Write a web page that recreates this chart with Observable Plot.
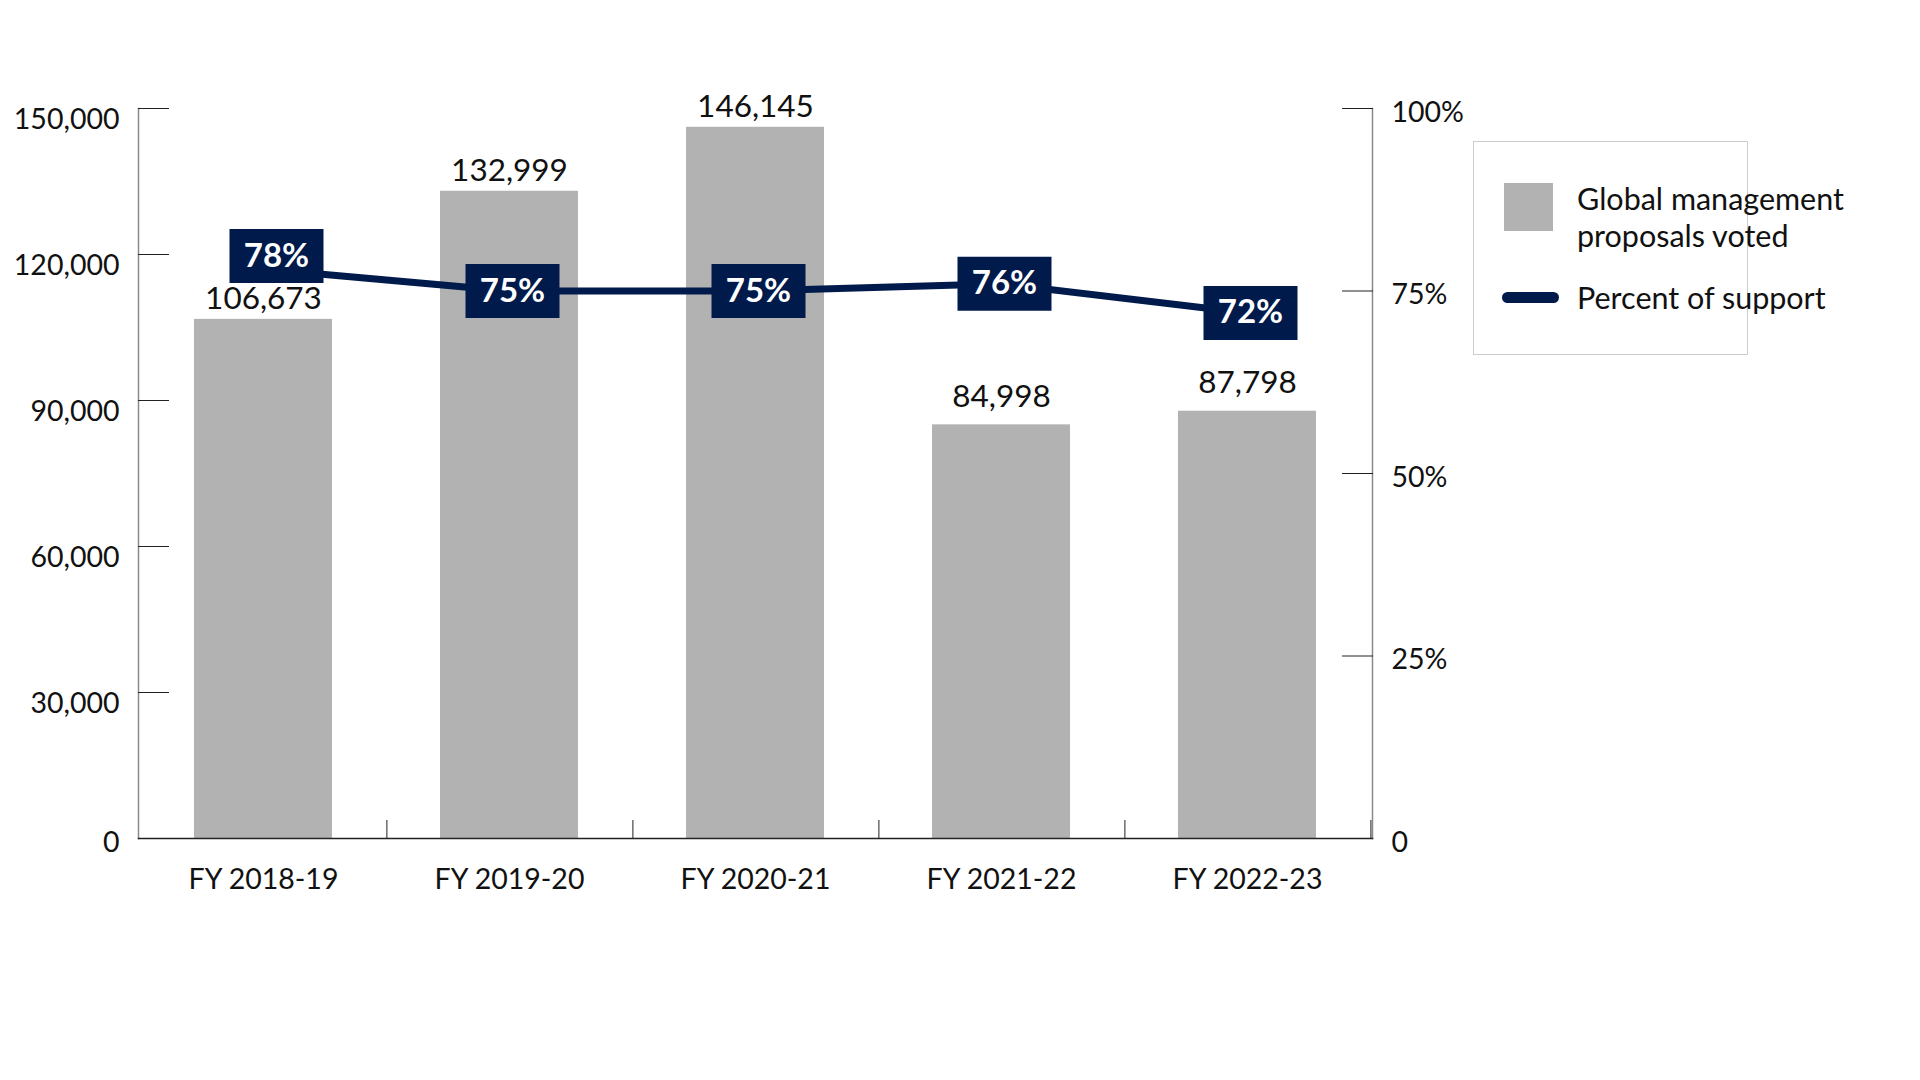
<!DOCTYPE html>
<html><head><meta charset="utf-8">
<script src="https://cdn.jsdelivr.net/npm/d3@7"></script>
<script src="https://cdn.jsdelivr.net/npm/@observablehq/plot@0.6"></script>
<style>
body{margin:0;background:#fff;font-family:Lato,sans-serif;color:#111;}
#wrap{position:relative;width:1920px;height:1080px;}
.legend{position:absolute;left:1473px;top:141px;width:273px;height:212px;border:1px solid #cccccc;box-sizing:content-box;}
.sw{position:absolute;}
.lt{position:absolute;font-size:30.5px;line-height:37px;color:#111;white-space:nowrap;}
</style></head><body><div id="wrap"></div>
<script>
const categories = ["FY 2018-19", "FY 2019-20", "FY 2020-21", "FY 2021-22", "FY 2022-23"];
const proposals = [106673, 132999, 146145, 84998, 87798];
const support = [78, 75, 75, 76, 72];
const leftTicks = [0, 30000, 60000, 90000, 120000, 150000];
const rightTicks = [0, 25, 50, 75, 100];
const yMax = 150000;

const navy = "#001a4b";
const gray = "#b2b2b2";
const W = 1920, H = 1080, mL = 138, mR = 548, mT = 108, mB = 242;
const step = (W - mL - mR) / categories.length;
const pctToY = p => p * yMax / 100;

const bars = categories.map((c, i) => ({cat: c, v: proposals[i]}));
const pts = categories.map((c, i) => ({cat: c, p: support[i], y: pctToY(support[i])}));

const rectSymbol = {draw(ctx) { ctx.rect(-47, -27, 94, 54); }};
const fmt = d3.format(",");

const chart = Plot.plot({
  width: W, height: H,
  marginLeft: mL, marginRight: mR, marginTop: mT, marginBottom: mB,
  style: {fontFamily: "Lato, sans-serif", fontSize: "28px", color: "#111", background: "#fff"},
  x: {domain: categories, paddingInner: 0.44, paddingOuter: 0.22, axis: null},
  y: {domain: [0, yMax], axis: null},
  marks: [
    Plot.barY(bars, {x: "cat", y: "v", fill: gray}),
    Plot.frame({anchor: "left", stroke: "#8a8a8a", strokeWidth: 1.5}),
    Plot.frame({anchor: "right", stroke: "#8a8a8a", strokeWidth: 1.5}),
    Plot.frame({anchor: "bottom", stroke: "#222", strokeWidth: 1.5}),
    // left ticks pointing inward
    Plot.axisY(leftTicks, {anchor: "left", tickSize: 31, dx: 31, fill: "none", stroke: "#222", label: null}),
    // right ticks pointing inward
    Plot.axisY(rightTicks.map(pctToY), {anchor: "right", tickSize: 31, dx: -31, fill: "none", stroke: "#222", label: null}),
    // left labels
    Plot.axisY(leftTicks.filter(d => d > 0), {anchor: "left", tickSize: 0, tickPadding: 19, dy: 11, fontSize: 28.5, tickFormat: fmt, label: null}),
    Plot.axisY(leftTicks.filter(d => d === 0), {anchor: "left", tickSize: 0, tickPadding: 19, dy: 4, fontSize: 28.5, tickFormat: fmt, label: null}),
    // right labels
    Plot.axisY(rightTicks.map(pctToY), {anchor: "right", tickSize: 0, tickPadding: 19, dy: 4, fontSize: 28.5, tickFormat: d => d === 0 ? "0" : Math.round(d * 100 / yMax) + "%", label: null}),
    // x category boundary ticks
    Plot.axisX(categories, {anchor: "bottom", tickSize: 18, dy: -18, dx: step / 2, fill: "none", stroke: "#222", label: null}),
    // x labels
    Plot.axisX(categories, {anchor: "bottom", tickSize: 0, tickPadding: 30, fontSize: 28.5, label: null}),
    // bar value labels
    Plot.text(bars.slice(0, 3), {x: "cat", y: "v", text: d => fmt(d.v), dy: -20, fontSize: 31.5, fill: "#111"}),
    Plot.text(bars.slice(3), {x: "cat", y: "v", text: d => fmt(d.v), dy: -28, fontSize: 31.5, fill: "#111"}),
    // support line
    Plot.line(pts, {x: "cat", y: "y", stroke: navy, strokeWidth: 7}),
    // boxes
    Plot.dot(pts.slice(0, 1), {x: "cat", y: "y", symbol: rectSymbol, fill: navy, stroke: "none", dx: 13, dy: -13}),
    Plot.dot(pts.slice(1), {x: "cat", y: "y", symbol: rectSymbol, fill: navy, stroke: "none", dx: 3}),
    Plot.text(pts.slice(0, 1), {x: "cat", y: "y", text: d => d.p + "%", fill: "#fff", fontWeight: "bold", fontSize: 33, dx: 13, dy: -13}),
    Plot.text(pts.slice(1), {x: "cat", y: "y", text: d => d.p + "%", fill: "#fff", fontWeight: "bold", fontSize: 33, dx: 3})
  ]
});

const wrap = document.getElementById("wrap");
wrap.appendChild(chart);

const legend = document.createElement("div");
legend.className = "legend";
legend.innerHTML = `
  <div class="sw" style="left:30px;top:41px;width:49px;height:48px;background:${gray};"></div>
  <div class="lt" style="left:103px;top:38px;">Global management<br>proposals voted</div>
  <div class="sw" style="left:28px;top:150px;width:57px;height:11px;border-radius:6px;background:${navy};"></div>
  <div class="lt" style="left:103px;top:137px;">Percent of support</div>
`;
wrap.appendChild(legend);
</script>
</body></html>
